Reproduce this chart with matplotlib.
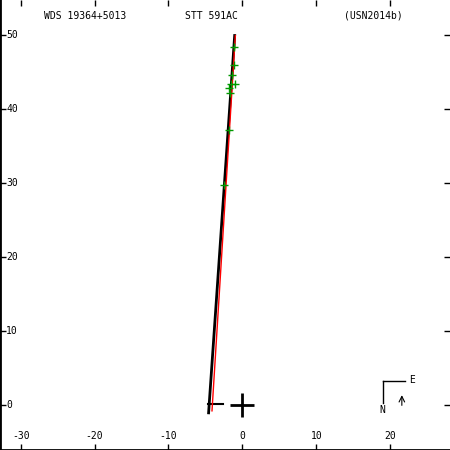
import matplotlib.pyplot as plt

# orbit track (black) and computed path (red), arcsec
orbit_x = [-4.57, -1.04]
orbit_y = [-1.08, 49.9]
path_x = [-4.11, -0.95]
path_y = [-0.81, 49.9]

# observations (green crosses)
obs_x = [-1.09, -1.18, -1.40, -1.53, -0.95, -1.86, -1.63, -1.86, -2.54]
obs_y = [48.4, 45.9, 44.6, 43.4, 43.3, 42.8, 42.1, 37.1, 29.7]

# short periastron/node mark
mark_x = [-4.6, -2.6]
mark_y = [0.14, 0.14]

xticks = [-30, -20, -10, 0, 10, 20]
yticks = [0, 10, 20, 30, 40, 50]
titles = ["WDS 19364+5013", "STT 591AC", "(USN2014b)"]

MONO = "DejaVu Sans Mono"

fig = plt.figure(figsize=(4.5, 4.5), dpi=100)
ax = fig.add_axes([0, 0, 1, 1])
ax.set_xlim(-32.8, 28.1)
ax.set_ylim(-6.1, 54.7)

ax.plot(orbit_x, orbit_y, color="black", linewidth=2.0, zorder=2)
ax.plot(path_x, path_y, color="red", linewidth=1.0, zorder=3)
ax.plot(obs_x, obs_y, "+", color="#009900", markersize=6, mew=1, zorder=4)
ax.plot(mark_x, mark_y, color="black", linewidth=1.5)
ax.plot([0], [0], "+", color="black", markersize=17, mew=2)

# ticks inward on all sides, labels drawn inside
ax.set_xticks(xticks)
ax.set_yticks(yticks)
ax.tick_params(direction="in", length=4, width=1, top=True, right=True,
               labelbottom=False, labelleft=False)
for s in ["top", "right"]:
    ax.spines[s].set_visible(False)
for s in ["left", "bottom"]:
    ax.spines[s].set_linewidth(2)

for v in xticks:
    ax.text(v, 0.031, str(v), transform=ax.get_xaxis_transform(),
            ha="center", va="center", fontsize=7, family=MONO)
for v in yticks:
    ax.text(0.014, v, str(v), transform=ax.get_yaxis_transform(),
            ha="left", va="center", fontsize=7, family=MONO)

for xf, t in zip([0.19, 0.47, 0.83], titles):
    ax.text(xf, 0.965, t, transform=ax.transAxes, ha="center", va="center",
            fontsize=7, family=MONO)

# compass
ax.plot([0.851, 0.9], [0.153, 0.153], color="black", linewidth=1, transform=ax.transAxes)
ax.plot([0.851, 0.851], [0.153, 0.104], color="black", linewidth=1, transform=ax.transAxes)
ax.text(0.915, 0.156, "E", transform=ax.transAxes, ha="center", va="center",
        fontsize=7, family=MONO)
ax.text(0.849, 0.088, "N", transform=ax.transAxes, ha="center", va="center",
        fontsize=7, family=MONO)
ax.annotate("", xy=(0.893, 0.128), xytext=(0.893, 0.093), xycoords="axes fraction",
            arrowprops=dict(arrowstyle="->", lw=0.8, color="black"))

fig.savefig("out.png", dpi=100)
